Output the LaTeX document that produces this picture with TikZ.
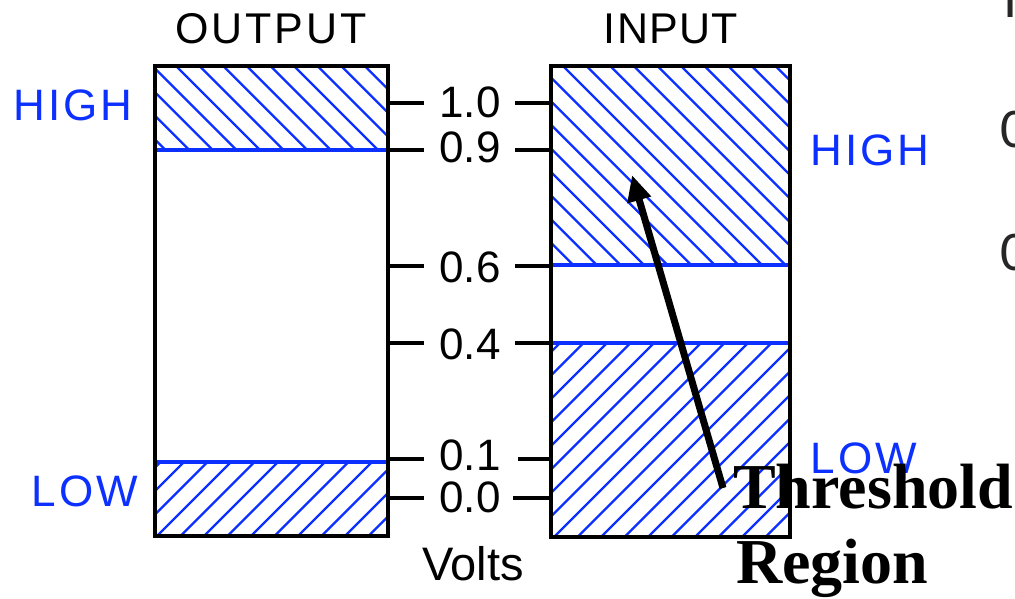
\documentclass[tikz,border=0pt]{standalone}
\usepackage{fontspec}
\setmainfont{Liberation Sans}
\newfontfamily\spacedfont[LetterSpace=7]{Liberation Sans}
\newfontfamily\inputfont[LetterSpace=3]{Liberation Sans}
\newfontfamily\serifbold{Liberation Serif}
\newfontfamily\edgefont{Carlito}
\usetikzlibrary{arrows.meta}
\definecolor{hatchblue}{RGB}{12,48,255}
\newcommand{\hatchdown}[5]{%
  \begin{scope}
    \clip (#1,#2) rectangle (#3,#4);
    \foreach \k in {-16,...,16} \draw[hatchline] ({#5+\k*23.6},#2) -- ++(320,320);
  \end{scope}}
\newcommand{\hatchup}[5]{%
  \begin{scope}
    \clip (#1,#2) rectangle (#3,#4);
    \foreach \k in {-16,...,16} \draw[hatchline] ({#5+\k*23.5},#4) -- ++(320,-320);
  \end{scope}}
\begin{document}
\begin{tikzpicture}[x=1pt,y=-1pt,
  hatchline/.style={hatchblue,line width=2.3pt},
  sepline/.style={hatchblue,line width=3.6pt},
  boxstyle/.style={draw=black,line width=3.6pt,inner sep=0pt,outer sep=0pt},
  tick/.style={black,line width=3.6pt},
  numlbl/.style={anchor=base,inner sep=0pt,font=\fontsize{44}{52}\selectfont},
  title/.style={anchor=base,inner sep=0pt},
  level/.style={anchor=base,inner sep=0pt,text=hatchblue,font=\fontsize{44}{52}\selectfont\spacedfont},
  callout/.style={anchor=base west,inner sep=0pt,font=\fontsize{64}{76}\selectfont\serifbold\bfseries},
  edge/.style={anchor=base west,inner sep=0pt,text=black!85,font=\fontsize{56}{64}\selectfont\edgefont},
  pointer/.style={black,line width=7pt,-{Triangle[length=26pt,width=23pt]}}
]
\fill[white] (0,0) rectangle (1015,598);
\useasboundingbox (0,0) rectangle (1015,598);
\clip (0,0) rectangle (1015,598);

% hatching
\hatchdown{155}{66}{388}{150}{176}
\hatchup{155}{462}{388}{536}{157}
\hatchdown{551}{66}{790}{265}{563}
\hatchup{551}{343}{790}{537}{460}

% separators
\draw[sepline] (155,150) -- (388,150);
\draw[sepline] (155,462) -- (388,462);
\draw[sepline] (551,265) -- (790,265);
\draw[sepline] (551,343) -- (790,343);

% boxes
\node[boxstyle,minimum width=233pt,minimum height=470pt] (outbox) at (271.5,301) {};
\node[boxstyle,minimum width=239pt,minimum height=471pt] (inbox) at (670.5,301.5) {};

% titles
\node[title,font=\fontsize{43}{51}\selectfont\spacedfont] (outtitle) at (271,43) {OUTPUT};
\node[title,font=\fontsize{43}{51}\selectfont\inputfont] (intitle) at (671,43) {INPUT};

% level labels
\node[level] (highout) at (73,120) {HIGH};
\node[level] (lowout) at (85,506) {LOW};
\node[level] (highin) at (870,165) {HIGH};
\node[level] (lowin) at (864,473) {LOW};

% scale labels
\node[numlbl] (v10) at (470,117) {1.0};
\node[numlbl] (v09) at (470,162) {0.9};
\node[numlbl] (v06) at (470,282) {0.6};
\node[numlbl] (v04) at (470,359) {0.4};
\node[numlbl] (v01) at (470,470) {0.1};
\node[numlbl] (v00) at (470,512) {0.0};
\node[numlbl,font=\fontsize{47}{55}\selectfont] (volts) at (473,580) {Volts};

% ticks
\foreach \yy/\lx/\rx in {103/424/515, 150/424/515, 266/424/515, 343/424/515, 459/424/518, 498/424/513}{
  \draw[tick] (outbox.east |- 0,\yy) -- (\lx,\yy);
  \draw[tick] (\rx,\yy) -- (inbox.west |- 0,\yy);
}

% threshold pointer
\coordinate (pstart) at (723,488);
\coordinate (ptip) at (632,175);
\draw[pointer] (pstart) -- (ptip);

% callout text
\node[callout] (thr) at (733,508) {Threshold};
\node[callout] (reg) at (736,583) {Region};

% cut-off text at right edge
\node[edge] (e1) at (1003,17) {I};
\node[edge] (e2) at (1000,147) {0};
\node[edge] (e3) at (1000,270) {0};
\end{tikzpicture}
\end{document}
